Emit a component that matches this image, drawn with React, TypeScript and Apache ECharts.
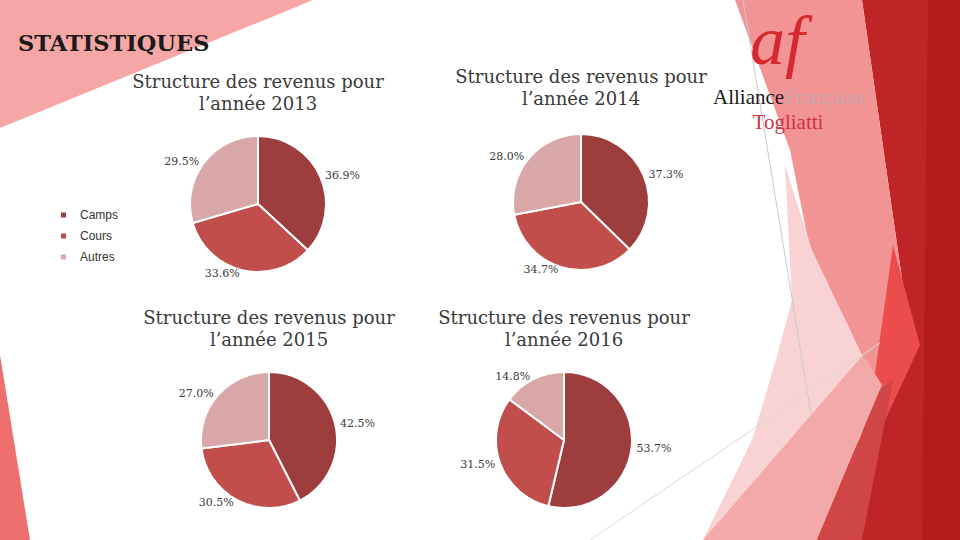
import React, { useEffect, useRef } from "react";
import * as echarts from "echarts";

const categories = ["Camps", "Cours", "Autres"];
const years = ["2013", "2014", "2015", "2016"];
const values2013 = [36.9, 33.6, 29.5];
const values2014 = [37.3, 34.7, 28.0];
const values2015 = [42.5, 30.5, 27.0];
const values2016 = [53.7, 31.5, 14.8];
const pageTitle = "STATISTIQUES";
const chartTitlePrefix = "Structure des revenus pour\nl’année ";

const sliceColors = ["#9E3D3D", "#C24E4C", "#D9A7A7"];

export default function App() {
  const ref = useRef<HTMLDivElement>(null);

  useEffect(() => {
    if (!ref.current) return;
    const chart = echarts.init(ref.current, null, { renderer: "svg" });

    const allValues = [values2013, values2014, values2015, values2016];
    const centers: [number, number][] = [
      [258, 204],
      [581, 202],
      [269, 440],
      [564, 440],
    ];
    const serif = "DejaVu Serif";

    const series = allValues.map((vals, i) => ({
      type: "pie",
      name: years[i],
      center: centers[i],
      radius: 68,
      startAngle: 90,
      clockwise: true,
      avoidLabelOverlap: false,
      itemStyle: { borderColor: "#ffffff", borderWidth: 2 },
      label: {
        show: true,
        position: "outside",
        formatter: (p: any) => `${Number(p.value).toFixed(1)}%`,
        fontFamily: serif,
        fontSize: 11,
        color: "#3a3a3a",
        distanceToLabelLine: 2,
      },
      labelLine: { show: false, length: 3, length2: 0 },
      emphasis: { disabled: true },
      data: categories.map((c, j) => ({
        name: c,
        value: vals[j],
        itemStyle: { color: sliceColors[j] },
      })),
    }));

    const titles = years.map((y, i) => ({
      text: chartTitlePrefix + y,
      left: centers[i][0],
      top: i < 2 ? 70 - (i === 1 ? 5 : 0) : 306,
      textAlign: "center",
      padding: 0,
      textStyle: {
        fontFamily: serif,
        fontSize: 18,
        fontWeight: "normal",
        color: "#3a3a3a",
        lineHeight: 22,
      },
    }));

    const poly = (points: number[][], fill: string) => ({
      type: "polygon",
      silent: true,
      z: -10,
      shape: { points },
      style: { fill },
    });

    const graphic: any[] = [
      poly([[0, 0], [313, 0], [0, 128]], "#F7A6A6"),
      poly([[0, 355], [30, 540], [0, 540]], "#EF6E6E"),
      poly([[862, 0], [960, 0], [960, 540], [800, 540], [878, 390], [905, 300]], "#BF2526"),
      poly([[928, 0], [960, 0], [960, 540], [922, 540]], "#B31B1C"),
      poly([[735, 0], [862, 0], [905, 300], [878, 390], [850, 330], [810, 250], [790, 150]], "#F29494"),
      poly([[893, 245], [920, 345], [876, 440], [872, 395]], "#EC4C4C"),
      poly([[785, 165], [812, 250], [850, 330], [876, 385], [860, 440], [725, 540], [703, 540], [752, 440], [776, 360], [792, 300]], "#F9D3D3"),
      poly([[703, 540], [863, 355], [882, 385], [817, 540]], "#F4A9A9"),
      poly([[817, 540], [880, 390], [893, 380], [862, 540]], "#D04545"),
      {
        type: "line",
        silent: true,
        z: -5,
        shape: { x1: 743, y1: 0, x2: 812, y2: 420 },
        style: { stroke: "#C8C8C8", lineWidth: 1 },
      },
      {
        type: "line",
        silent: true,
        z: -5,
        shape: { x1: 590, y1: 540, x2: 880, y2: 343 },
        style: { stroke: "#D8D8D8", lineWidth: 1 },
      },
      {
        type: "text",
        silent: true,
        z: 5,
        x: 18,
        y: 43,
        style: {
          text: pageTitle,
          fontFamily: "DejaVu Serif",
          fontWeight: "bold",
          fontSize: 22.5,
          fill: "#1a1a1a",
          verticalAlign: "middle",
        },
      },
      {
        type: "text",
        silent: true,
        z: 5,
        x: 750,
        y: 40,
        style: {
          text: "af",
          fontFamily: "Liberation Serif",
          fontStyle: "italic",
          fontSize: 70,
          fill: "#D7282F",
          verticalAlign: "middle",
        },
      },
      {
        type: "text",
        silent: true,
        z: 5,
        x: 713,
        y: 97,
        style: {
          text: "{a|Alliance}{b|Française}",
          verticalAlign: "middle",
          rich: {
            a: { fontFamily: "Liberation Serif", fontSize: 21, fill: "#1a1a1a", color: "#1a1a1a" },
            b: { fontFamily: "Liberation Serif", fontSize: 21, fill: "#C9A2A7", color: "#C9A2A7" },
          },
        },
      },
      {
        type: "text",
        silent: true,
        z: 5,
        x: 788,
        y: 122,
        style: {
          text: "Togliatti",
          fontFamily: "Liberation Serif",
          fontSize: 21,
          fill: "#D03045",
          align: "center",
          verticalAlign: "middle",
        },
      },
    ];

    chart.setOption({
      animation: false,
      backgroundColor: "#ffffff",
      title: titles,
      legend: {
        orient: "vertical",
        left: 54,
        top: 204,
        itemWidth: 7,
        itemHeight: 7,
        itemGap: 9,
        icon: "rect",
        selectedMode: false,
        data: categories,
        textStyle: {
          fontFamily: "Liberation Sans",
          fontSize: 12,
          color: "#333333",
          padding: [0, 0, 0, 8],
        },
      },
      graphic,
      series,
    });

    return () => chart.dispose();
  }, []);

  return (
    <div
      ref={ref}
      style={{ position: "fixed", left: 0, top: 0, width: 960, height: 540 }}
    />
  );
}
